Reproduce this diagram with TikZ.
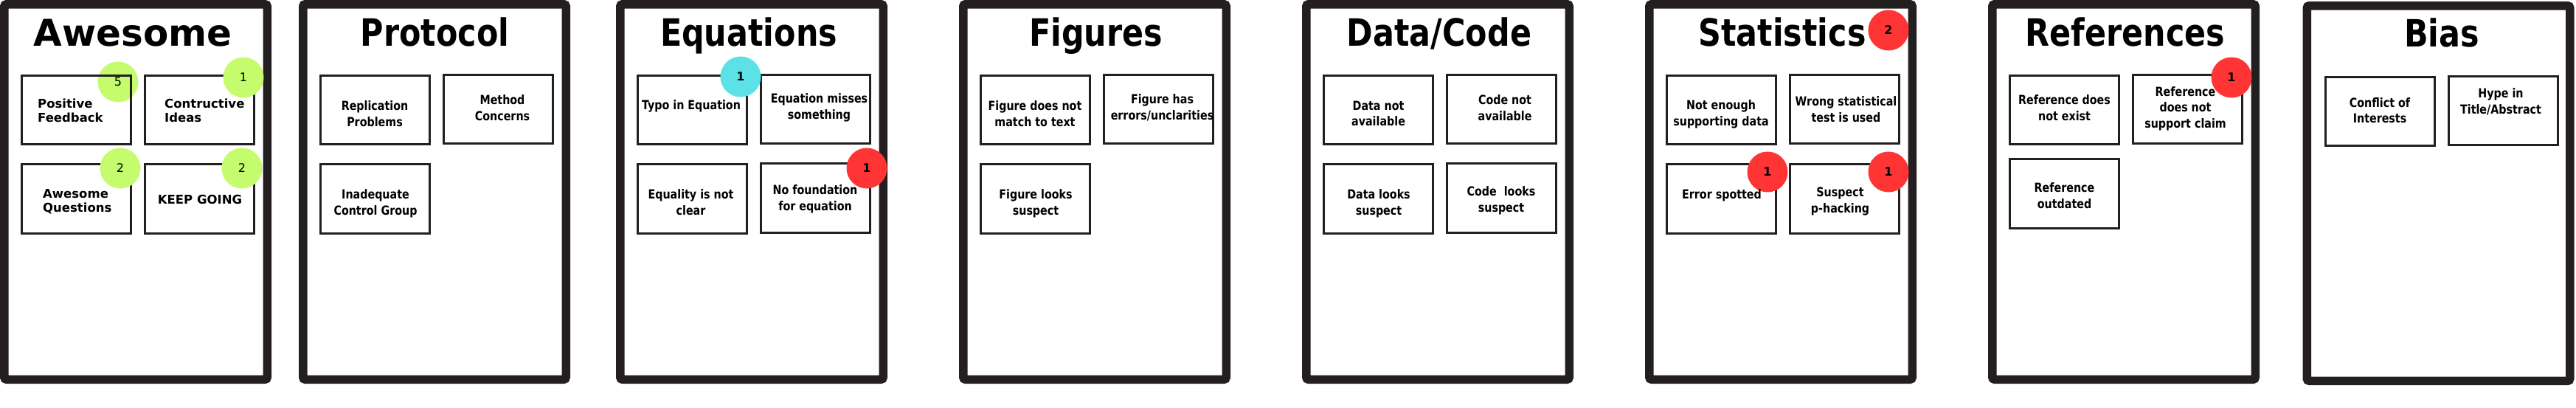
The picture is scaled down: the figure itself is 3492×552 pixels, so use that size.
\documentclass[tikz,border=0pt]{standalone}
\usepackage{fontspec}
\setmainfont{DejaVu Sans}
\newfontfamily\cond{DejaVu Sans}[FakeStretch=0.84]
\definecolor{fr}{HTML}{231F20}
\definecolor{gr}{HTML}{C4FC6E}
\definecolor{cy}{HTML}{5CE1E6}
\definecolor{rd}{HTML}{FF3434}
\begin{document}
\begin{tikzpicture}[x=1pt,y=-1pt,
  panel/.style={draw=fr, line width=11.5pt, rounded corners=3pt, fill=white,
    minimum width=356.5pt, minimum height=508.5pt, inner sep=0pt},
  ttl/.style={anchor=base, inner sep=0pt, font=\cond\bfseries\fontsize{51}{51}\selectfont},
  card/.style={draw=fr, line width=2.6pt, minimum width=148.5pt, minimum height=93.5pt, inner sep=0pt},
  lbl/.style={inner sep=0pt, align=center, font=\cond\bfseries\fontsize{17}{21.5}\selectfont},
  awe/.style={inner sep=0pt, align=left, font=\bfseries\fontsize{16.5}{19.5}\selectfont},
  badge/.style={circle, minimum size=55pt, inner sep=0pt, font=\bfseries\fontsize{16}{16}\selectfont},
  gbadge/.style={badge, fill=gr, font=\fontsize{16}{16}\selectfont},
  rbadge/.style={badge, fill=rd},
  cbadge/.style={badge, fill=cy}]
\useasboundingbox[fill=white] (0,0) rectangle (3492,552);

% ---------- panels ----------
\node[panel] (p1) at (184,260) {};
\node[panel] (p2) at (589,260) {};
\node[panel] (p3) at (1019,260) {};
\node[panel] (p4) at (1484,260) {};
\node[panel] (p5) at (1949,260) {};
\node[panel] (p6) at (2414,260) {};
\node[panel] (p7) at (2879,260) {};
\node[panel] (p8) at (3305.5,262) {};

% ---------- titles ----------
\node[ttl, font=\bfseries\fontsize{50}{50}\selectfont] (t1) at (180,62) {Awesome};
\node[ttl] (t2) at (589.5,62) {Protocol};
\node[ttl] (t3) at (1015,62) {Equations};
\node[ttl] (t4) at (1485.5,62) {Figures};
\node[ttl] (t5) at (1951,62) {Data/Code};
\node[ttl] (t6) at (2416,62) {Statistics};
\node[ttl] (t7) at (2881,62) {References};
\node[ttl] (t8) at (3310,63) {Bias};

% badge lying under its card
\node[gbadge] (b11) at (160,111) {5};

% ---------- cards ----------
\node[card] (c11) at (103.5,149) {};
\node[card] (c12) at (270.5,149) {};
\node[card] (c13) at (103.5,269.5) {};
\node[card] (c14) at (270.5,269.5) {};

\node[card] (c21) at (508.5,149) {};
\node[card] (c22) at (675.5,148) {};
\node[card] (c23) at (508.5,269.5) {};

\node[card] (c31) at (938.5,149) {};
\node[card] (c32) at (1105.5,148) {};
\node[card] (c33) at (938.5,269.5) {};
\node[card] (c34) at (1105.5,268.5) {};

\node[card] (c41) at (1403.5,149) {};
\node[card] (c42) at (1570.5,148) {};
\node[card] (c43) at (1403.5,269.5) {};

\node[card] (c51) at (1868.5,149) {};
\node[card] (c52) at (2035.5,148) {};
\node[card] (c53) at (1868.5,269.5) {};
\node[card] (c54) at (2035.5,268.5) {};

\node[card] (c61) at (2333.5,149) {};
\node[card] (c62) at (2500.5,148) {};
\node[card] (c63) at (2333.5,269.5) {};
\node[card] (c64) at (2500.5,269.5) {};

\node[card] (c71) at (2798.5,149) {};
\node[card] (c72) at (2965.5,148) {};
\node[card] (c73) at (2798.5,262.5) {};

\node[card] (c81) at (3226.5,151) {};
\node[card] (c82) at (3393.5,150) {};

% ---------- badges ----------
\node[gbadge] (b12) at (330,105) {1};
\node[gbadge] (b13) at (163,228) {2};
\node[gbadge] (b14) at (328,228) {2};
\node[cbadge] (b31) at (1004,104) {1};
\node[rbadge] (b34) at (1175,228) {1};
\node[rbadge] (b60) at (2560,41) {2};
\node[rbadge] (b63) at (2396,233) {1};
\node[rbadge] (b64) at (2560,233) {1};
\node[rbadge] (b72) at (3025,105) {1};

% ---------- card texts ----------
\node[awe, anchor=west] (l11) at (51,150) {Positive\\Feedback};
\node[awe, anchor=west] (l12) at (223,150) {Contructive\\Ideas};
\node[awe, anchor=west] (l13) at (58,273) {Awesome\\Questions};
\node[awe, align=center] (l14) at (271,270) {KEEP GOING};

\node[lbl] (l21) at (508,154) {Replication\\Problems};
\node[lbl] (l22) at (681,146) {Method\\Concerns};
\node[lbl] (l23) at (509,276) {Inadequate\\Control Group};

\node[lbl] (l31) at (937,144) {Typo in Equation};
\node[lbl] (l32) at (1110.5,146) {Equation misses\\something};
\node[lbl] (l33) at (936.5,274) {Equality is not\\clear};
\node[lbl] (l34) at (1105,270) {No foundation\\for equation};

\node[lbl] (l41) at (1403,154) {Figure does not\\match to text};
\node[lbl] (l42) at (1575.5,146) {Figure has\\errors/unclarities};
\node[lbl] (l43) at (1404,276) {Figure looks\\suspect};

\node[lbl] (l51) at (1868.5,154) {Data not\\available};
\node[lbl] (l52) at (2040,146) {Code not\\available};
\node[lbl] (l53) at (1869,276) {Data looks\\suspect};
\node[lbl] (l54) at (2035,272) {Code\ \ looks\\suspect};

\node[lbl] (l61) at (2333,155) {Not enough\\supporting data};
\node[lbl] (l62) at (2502.5,148) {Wrong statistical\\test is used};
\node[lbl] (l63) at (2334,265) {Error spotted};
\node[lbl] (l64) at (2494.5,273) {Suspect\\p-hacking};

\node[lbl] (l71) at (2798.5,146) {Reference does\\not exist};
\node[lbl] (l72) at (2962.5,147) {Reference\\does not\\support claim};
\node[lbl] (l73) at (2798.5,265) {Reference\\outdated};

\node[lbl] (l81) at (3226,149.5) {Conflict of\\Interests};
\node[lbl] (l82) at (3390,138) {Hype in\\Title/Abstract};
\end{tikzpicture}
\end{document}
